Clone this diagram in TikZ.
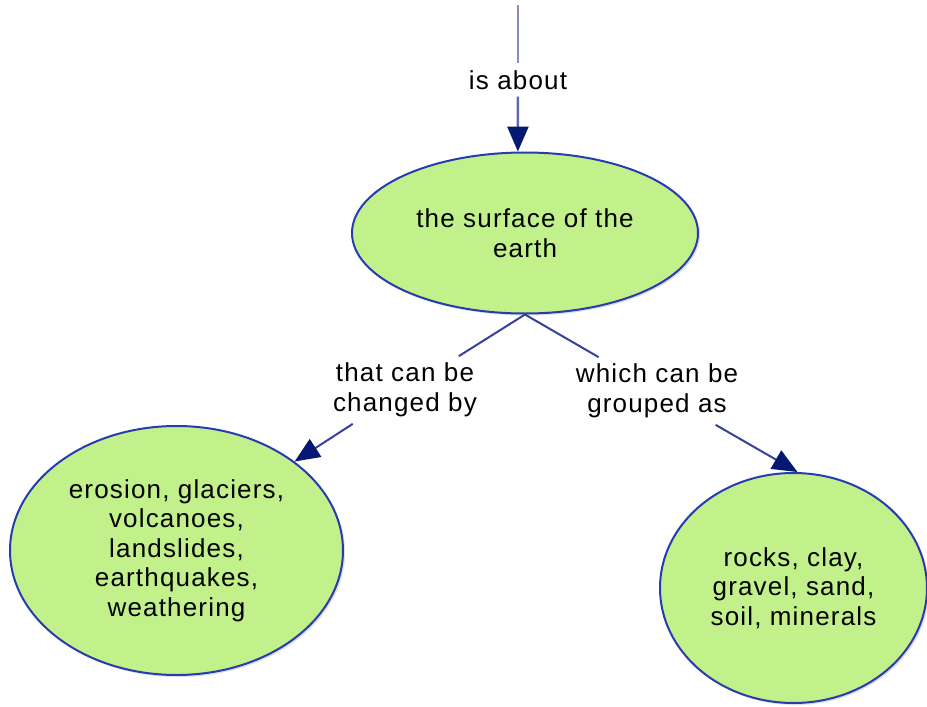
\documentclass[tikz,border=0pt]{standalone}
\usepackage{fontspec}
\setmainfont{Liberation Sans}[LetterSpace=4.5]
\usetikzlibrary{arrows.meta,shapes.geometric,shadows}
\definecolor{conceptfill}{RGB}{194,240,138}
\definecolor{conceptline}{RGB}{40,60,175}
\definecolor{linkline}{RGB}{55,65,155}
\definecolor{tipblue}{RGB}{5,25,115}

\begin{document}
\begin{tikzpicture}[x=1pt, y=-1pt,
  font=\fontsize{26}{29.5}\selectfont,
  concept/.style={ellipse, draw=conceptline, fill=conceptfill, line width=2pt,
                  align=center, inner sep=0pt,
                  drop shadow={shadow xshift=2pt, shadow yshift=-2pt, opacity=.25}},
  linkword/.style={align=center, inner sep=6pt},
  >={Triangle[length=25pt,width=21pt,color=tipblue]}, line width=2pt]
  \useasboundingbox (0,0) rectangle (927,707);
  \node[concept, minimum width=346pt, minimum height=161pt] (surface) at (525,233) {the surface of the\\earth};
  \node[concept, minimum width=333pt, minimum height=249pt] (erosion) at (176.5,550.5) {erosion, glaciers,\\volcanoes,\\landslides,\\earthquakes,\\weathering};
  \node[concept, minimum width=267pt, minimum height=230pt] (rocks) at (793.5,588) {rocks, clay,\\gravel, sand,\\soil, minerals};
  \node[linkword] (about) at (518,80) {is about};
  \node[linkword] (changed) at (405,390) {that can be\\changed by};
  \node[linkword] (grouped) at (657,391) {which can be\\grouped as};
  \coordinate (entry) at (518,5);
  \draw[linkline!60, line width=2.5pt] (entry) -- (about);
  \draw[->, linkline!80, line width=2.5pt] (about) -- (surface.95);
  \draw[linkline] (surface.south) -- (changed);
  \draw[->, linkline] (changed) -- (erosion.37);
  \draw[linkline] (surface.south) -- (grouped);
  \draw[->, linkline] (grouped) -- (rocks.88);
\end{tikzpicture}
\end{document}
